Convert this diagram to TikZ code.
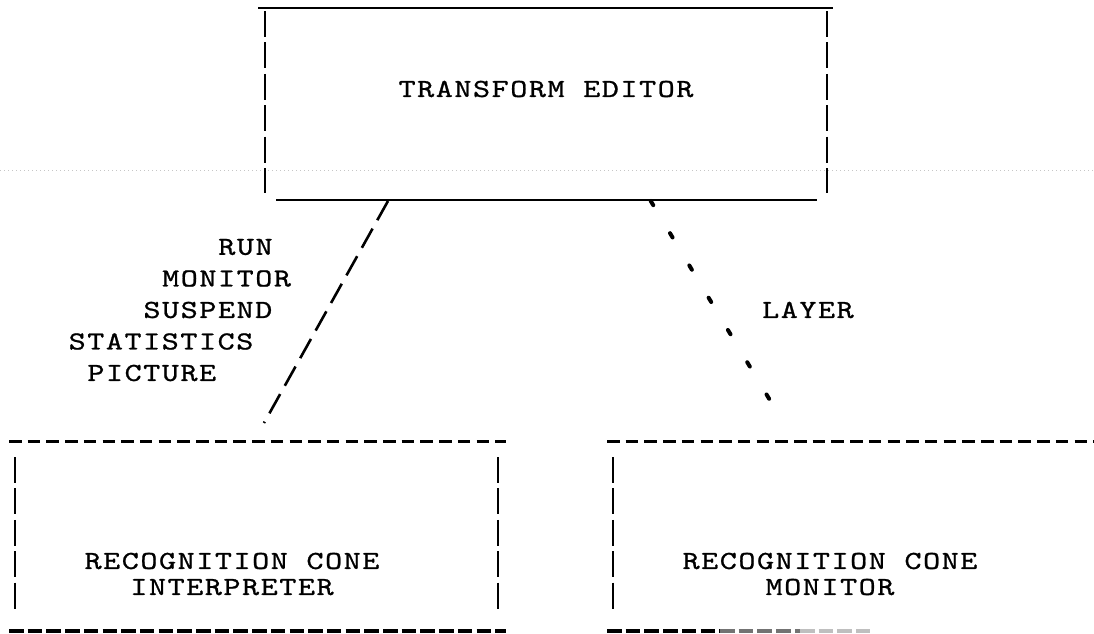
\documentclass[tikz,border=0pt]{standalone}
\usepackage{fontspec}
\setmonofont{lmmono10-regular.otf}[FakeStretch=1.25,LetterSpace=6,FakeBold=0.9]
\tikzset{
  typed/.style={font=\ttfamily\fontsize{26}{26}\selectfont, inner sep=0pt},
  rule/.style={line width=2.6pt},
  side/.style={line width=2.8pt, dash pattern=on 26pt off 5.4pt},
  hyph/.style={line width=3pt, dash pattern=on 12.5pt off 6.2pt},
  hyphb/.style={line width=3.4pt, dash pattern=on 14.5pt off 4.2pt},
  slash/.style={line width=2.6pt, dash pattern=on 22pt off 9.6pt},
  dots/.style={line width=4pt, line cap=round, dash pattern=on 5pt off 32.6pt}
}
\begin{document}
\begin{tikzpicture}[x=1pt,y=-1pt]
  \useasboundingbox (0,0) rectangle (1094,633);
  % Riga della scansione
  \draw[gray!45, line width=0.6pt, dash pattern=on 1pt off 3pt] (0,170) -- (1094,170);
  % Riquadro superiore
  \draw[rule] (258,8) -- (833,8);
  \draw[rule] (276,200) -- (817,200);
  \draw[side] (265,11) -- (265,193);
  \draw[side] (827,11) -- (827,193);
  \node[typed] (editor) at (546,89) {TRANSFORM EDITOR};
  % Riquadri inferiori
  \draw[hyph] (9,441) -- (506,441);
  \draw[hyphb] (9,631) -- (506,631);
  \draw[side] (15,457) -- (15,612);
  \draw[side] (498,457) -- (498,612);
  \node[typed, align=center] (interp) at (232,574) {RECOGNITION CONE\\INTERPRETER};
  \draw[hyph] (607,441) -- (1094,441);
  \draw[hyphb] (607,631) -- (720,631);
  \draw[hyphb, black!55] (720,631) -- (800,631);
  \draw[hyphb, black!25] (800,631) -- (870,631);
  \draw[side] (613,457) -- (613,612);
  \node[typed, align=center] (cmon) at (830,574) {RECOGNITION CONE\\MONITOR};
  % Collegamenti
  \coordinate (ed-l) at (388,201);
  \coordinate (int-t) at (264,423);
  \draw[slash] (ed-l) -- (int-t);
  \coordinate (ed-r) at (650.7,200.9);
  \coordinate (mon-t) at (769.3,399.1);
  \draw[dots] (ed-r) -- (mon-t);
  % Etichette
  \foreach \lbl/\col/\row in {RUN/3/0, MONITOR/0/1, SUSPEND/-1/2, STATISTICS/-5/3, PICTURE/-4/4}
    \node[typed, anchor=west] (cmd\row) at ({162+18.7*\col},{247+31.5*\row}) {\lbl};
  \node[typed, anchor=west] (layer) at (762,310) {LAYER};
\end{tikzpicture}
\end{document}
